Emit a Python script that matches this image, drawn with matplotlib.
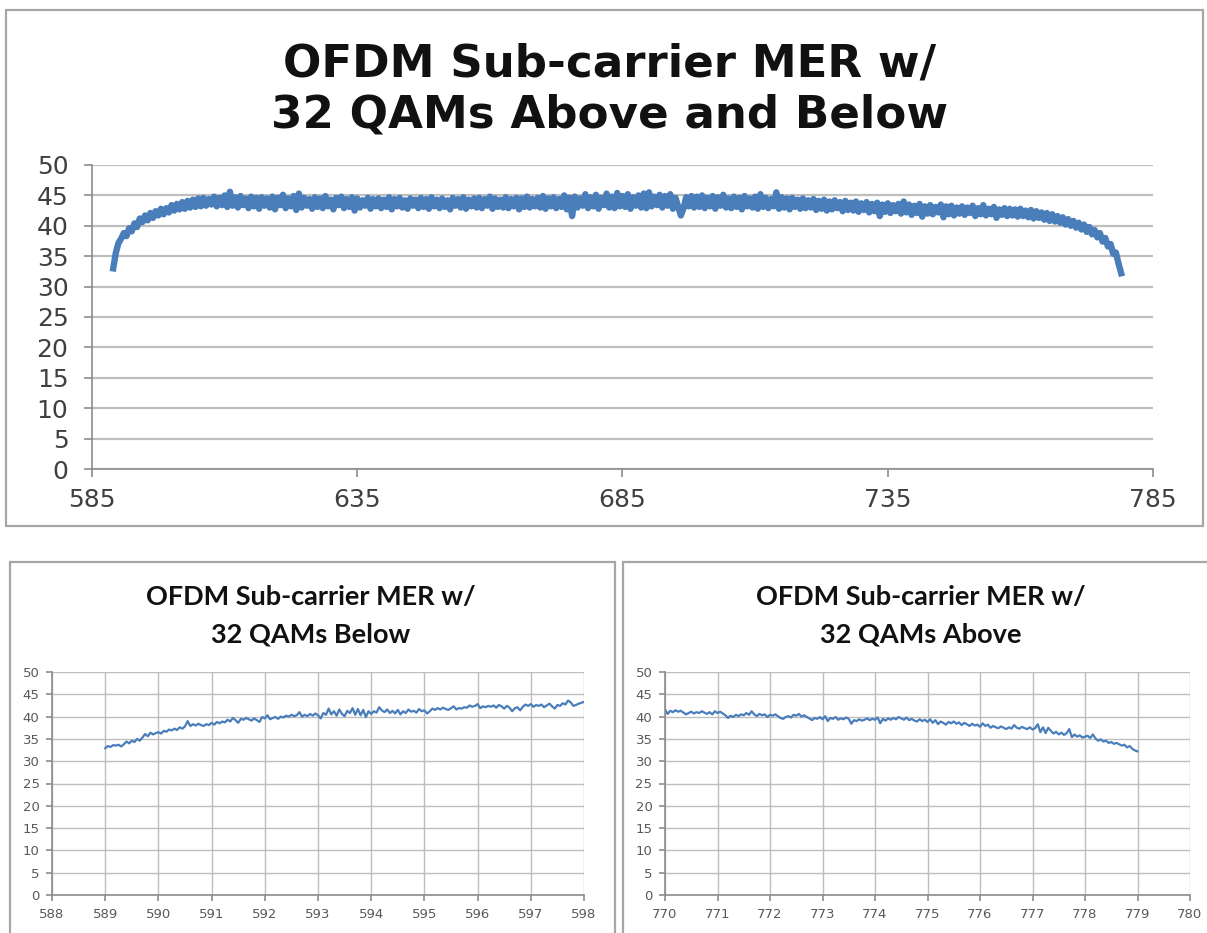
import matplotlib.pyplot as plt
import numpy as np
from matplotlib.patches import Rectangle

# MER per sub-carrier across the whole OFDM block (0.5 MHz steps)
full_freq = np.arange(589.0, 779.01, 0.5)
full_mer = [
    33.0, 35.6, 37.2, 37.9, 38.8, 38.3, 39.6, 39.1, 40.4, 39.8, 41.2, 40.6, 41.7, 40.9, 42.1, 41.3, 42.4, 41.7, 42.8, 41.9,
    42.9, 42.2, 43.4, 42.5, 43.6, 42.7, 43.9, 42.8, 44.1, 43.0, 44.3, 43.1, 44.5, 43.2, 44.6, 43.3, 44.4, 43.5, 44.8, 43.2,
    44.6, 43.4, 45.0, 43.1, 45.6, 43.3, 44.7, 43.0, 44.9, 43.4, 44.5, 42.9, 44.8, 43.2, 44.6, 42.8, 44.7, 43.3, 44.5, 43.0,
    44.8, 42.7, 44.6, 43.4, 45.1, 42.9, 44.5, 43.2, 44.9, 42.6, 45.3, 43.0, 44.6, 43.3, 44.4, 42.8, 44.7, 43.1, 44.5, 42.9,
    44.9, 43.2, 44.3, 42.7, 44.6, 43.4, 44.8, 42.9, 44.4, 43.1, 44.7, 42.5, 44.5, 43.0, 44.2, 43.3, 44.6, 42.8, 44.4, 43.2,
    44.5, 42.9, 44.3, 43.1, 44.7, 42.7, 44.4, 43.2, 44.6, 43.0, 44.2, 42.8, 44.5, 43.3, 44.3, 42.9, 44.6, 43.1, 44.4, 42.8,
    44.7, 43.2, 44.3, 42.9, 44.5, 43.1, 44.2, 42.7, 44.6, 43.3, 44.4, 43.0, 44.7, 42.8, 44.3, 43.2, 44.5, 43.0, 44.6, 42.9,
    44.4, 43.3, 44.8, 42.8, 44.5, 43.1, 44.3, 43.0, 44.7, 42.9, 44.4, 43.2, 44.6, 42.7, 44.5, 43.1, 44.8, 43.0, 44.4, 43.2,
    44.6, 43.0, 44.9, 42.8, 44.5, 43.2, 44.7, 42.9, 44.4, 43.1, 45.0, 42.7, 44.6, 41.6, 44.8, 43.0, 44.5, 43.3, 45.2, 42.9,
    44.7, 43.2, 45.1, 42.8, 44.6, 43.4, 45.3, 43.0, 44.8, 42.9, 45.4, 43.2, 44.9, 43.1, 45.2, 42.8, 44.7, 43.3, 45.0, 43.0,
    45.3, 42.9, 45.5, 43.2, 44.8, 43.4, 45.1, 43.0, 44.9, 43.3, 45.2, 42.8, 44.6, 43.1, 41.7, 42.9, 44.7, 43.2, 44.9, 43.0,
    44.8, 43.1, 45.0, 42.9, 44.6, 43.2, 44.9, 42.8, 44.7, 43.3, 45.1, 43.0, 44.5, 42.9, 44.8, 43.1, 44.6, 42.7, 44.9, 43.2,
    44.5, 43.0, 44.8, 42.8, 45.2, 43.1, 44.6, 42.9, 44.4, 43.2, 45.5, 42.8, 44.7, 43.0, 44.5, 42.7, 44.6, 43.1, 44.3, 42.8,
    44.5, 42.9, 44.2, 43.0, 44.4, 42.6, 44.1, 42.8, 44.3, 42.5, 44.0, 42.7, 44.2, 42.9, 43.9, 42.4, 44.1, 42.6, 43.8, 42.5,
    44.0, 42.3, 43.7, 42.6, 43.9, 42.2, 43.6, 42.4, 43.8, 41.6, 43.5, 42.3, 43.7, 42.1, 43.4, 42.4, 43.6, 42.0, 44.0, 42.2,
    43.5, 41.8, 43.3, 42.1, 43.6, 41.5, 43.2, 42.0, 43.4, 41.9, 43.1, 42.2, 43.5, 41.4, 43.2, 41.9, 43.3, 41.7, 43.0, 42.0,
    43.2, 41.8, 43.0, 42.1, 43.3, 41.6, 42.9, 41.9, 43.4, 41.7, 42.8, 41.9, 43.1, 41.3, 42.7, 41.8, 42.9, 41.6, 42.8, 41.7,
    42.7, 41.5, 42.8, 41.6, 42.5, 41.4, 42.6, 41.2, 42.4, 41.3, 42.2, 41.0, 42.1, 40.8, 41.9, 40.7, 41.6, 40.5, 41.4, 40.2,
    41.1, 40.0, 40.8, 39.7, 40.5, 39.4, 40.2, 39.0, 39.8, 38.6, 39.3, 38.1, 38.8, 37.4, 38.0, 36.6, 37.0, 35.4, 35.6, 33.8,
    32.2,
]

# lower band edge, 50 kHz steps
below_freq = np.arange(589.0, 598.001, 0.05)
below_mer = [
    32.9, 33.4, 33.2, 33.6, 33.5, 33.7, 33.3, 33.8, 34.4, 34.0, 34.6, 34.3, 35.0, 34.6, 35.3, 36.1, 35.6, 36.4, 36.0, 36.3,
    36.5, 36.2, 36.8, 36.6, 37.1, 36.9, 37.3, 37.0, 37.6, 37.3, 37.8, 39.0, 37.9, 38.3, 38.0, 38.4, 38.1, 37.9, 38.3, 38.1,
    38.6, 38.2, 38.8, 38.5, 38.9, 38.7, 39.3, 38.9, 39.7, 39.2, 38.6, 39.5, 39.3, 39.7, 39.4, 39.1, 39.6, 39.2, 38.8, 39.9,
    39.6, 40.3, 39.4, 39.7, 39.9, 39.5, 40.0, 39.8, 40.2, 40.0, 40.4, 40.1, 40.3, 41.0, 40.0, 40.4, 40.1, 40.6, 40.2, 40.7,
    40.3, 39.6, 40.8, 40.4, 41.8, 40.5, 41.2, 40.2, 41.6, 40.6, 40.1, 41.3, 40.8, 41.9, 40.4, 41.7, 40.3, 41.5, 39.9, 41.2,
    40.6, 41.2, 40.9, 42.1, 41.4, 41.0, 41.6, 40.8, 41.3, 40.7, 41.5, 40.5, 41.2, 40.8, 41.6, 41.1, 41.3, 40.9, 41.7, 41.2,
    41.4, 40.7, 41.2, 41.8, 41.5, 41.9, 41.6, 42.0, 41.7, 41.5, 41.9, 42.3, 41.6, 41.9, 41.8, 42.1, 42.0, 42.5, 42.2, 42.4,
    42.8, 41.9, 42.3, 42.1, 42.4, 42.2, 42.5, 42.0, 42.6, 42.3, 41.8, 42.4, 42.0, 41.2, 41.9, 42.1, 41.4, 42.2, 42.7, 42.4,
    42.8, 42.2, 42.6, 42.4, 42.7, 42.1, 42.5, 42.9, 42.3, 41.8, 42.6, 42.4, 43.0, 42.7, 43.6, 43.2, 42.4, 42.6, 42.9, 43.1,
    43.3,
]

# upper band edge, 50 kHz steps
above_freq = np.arange(770.0, 779.001, 0.05)
above_mer = [
    41.6, 40.6, 41.3, 41.0, 41.4, 41.1, 41.3, 40.9, 40.5, 40.8, 41.1, 40.7, 41.0, 40.8, 41.2, 40.9, 40.6, 41.0, 40.5, 41.2,
    40.8, 41.1, 40.7, 40.3, 39.7, 40.2, 39.9, 40.4, 40.1, 40.5, 40.3, 40.8, 40.4, 41.2, 40.5, 40.1, 40.6, 40.3, 40.5, 39.9,
    40.4, 40.2, 40.5, 40.1, 39.7, 39.5, 39.9, 40.1, 39.8, 40.4, 40.2, 40.6, 40.0, 40.3, 39.9, 39.6, 39.2, 39.7, 39.5, 39.9,
    39.4, 40.1, 39.0, 39.7, 39.5, 39.9, 39.3, 39.6, 39.4, 39.8, 39.5, 38.4, 39.2, 39.0, 39.4, 39.1, 39.3, 39.6, 39.2, 39.5,
    39.3, 39.8, 38.5, 39.5, 39.1, 39.6, 39.3, 39.7, 39.4, 39.9, 39.6, 39.3, 39.8, 39.2, 39.5, 39.1, 38.9, 39.4, 39.0, 39.3,
    38.8, 39.4, 38.6, 39.2, 38.3, 38.9, 38.6, 38.2, 38.8, 38.5, 38.9, 38.4, 38.7, 38.1, 38.6, 38.3, 37.9, 38.4, 38.0, 38.2,
    37.7, 38.5, 37.9, 38.2, 37.5, 37.9, 37.6, 37.4, 37.8, 37.5, 37.2, 37.6, 37.3, 38.1, 37.5, 37.3, 37.7, 37.4, 37.2, 37.6,
    37.1, 37.4, 38.3, 36.5, 37.6, 36.3, 37.5, 36.8, 36.2, 36.6, 36.0, 36.4, 35.9, 36.3, 37.2, 35.4, 36.0, 35.5, 35.8, 35.3,
    35.5, 35.7, 35.2, 36.0, 35.1, 34.6, 34.9, 34.4, 34.6, 34.1, 34.3, 33.9, 34.1, 33.8, 33.5, 33.7, 33.1, 33.4, 32.8, 32.4,
    32.2,
]

title_full = 'OFDM Sub-carrier MER w/\n32 QAMs Above and Below'
title_below = 'OFDM Sub-carrier MER w/\n32 QAMs Below'
title_above = 'OFDM Sub-carrier MER w/\n32 QAMs Above'

W, H = 1207, 933
LINE = '#4A7EBB'
GRID = '#BEBEBE'
AXIS = '#8C8C8C'
BORDER = '#A6A6A6'

fig = plt.figure(figsize=(W / 100, H / 100), dpi=100)
fig.patch.set_facecolor('white')


def px_axes(x0, y0, x1, y1):
    return fig.add_axes([x0 / W, 1 - y1 / H, (x1 - x0) / W, (y1 - y0) / H])


def px_box(x0, y0, x1, y1):
    fig.add_artist(Rectangle((x0 / W, 1 - y1 / H), (x1 - x0) / W, (y1 - y0) / H,
                             transform=fig.transFigure, fill=False,
                             edgecolor=BORDER, linewidth=1.6))


def excel_axes(ax, labelsize, labelcolor, pad, ticklen):
    ax.set_ylim(0, 50)
    ax.set_yticks(np.arange(0, 51, 5))
    for s in ('top', 'right'):
        ax.spines[s].set_visible(False)
    for s in ('left', 'bottom'):
        ax.spines[s].set_color(AXIS)
        ax.spines[s].set_linewidth(1.2)
    ax.tick_params(direction='out', length=ticklen, width=1.2, color=AXIS,
                   labelsize=labelsize, labelcolor=labelcolor, pad=pad)
    ax.set_axisbelow(True)


# big chart
px_box(6, 10, 1203, 526)
ax = px_axes(92, 165, 1153, 469)
ax.plot(full_freq, full_mer, color=LINE, linewidth=4.6, solid_joinstyle='round')
ax.set_xlim(585, 785)
ax.set_xticks([585, 635, 685, 735, 785])
ax.grid(axis='y', color=GRID, linewidth=1.6)
excel_axes(ax, 18, '#404040', 11, 6)
ax.tick_params(axis='x', pad=8)
for lbl in ax.get_xticklabels() + ax.get_yticklabels():
    lbl.set_family('DejaVu Sans')
for i, line in enumerate(title_full.split('\n')):
    fig.text(610 / W, 1 - (77 + 50 * i) / H, line, ha='center', va='baseline',
             family='DejaVu Sans', fontweight='bold', fontsize=32.5, color='#111111')

# band-edge close-ups
panels = [
    ((10, 562, 615, 945), (52, 672, 584, 895), 311, below_freq, below_mer, (588, 598), title_below),
    ((623, 562, 1212, 945), (665, 672, 1190, 895), 921, above_freq, above_mer, (770, 780), title_above),
]
for box, rect, tx, fx, fy, xlim, title in panels:
    px_box(*box)
    a = px_axes(*rect)
    a.plot(fx, fy, color=LINE, linewidth=1.6)
    a.set_xlim(*xlim)
    a.set_xticks(np.arange(xlim[0], xlim[1] + 1, 1))
    a.grid(True, color=GRID, linewidth=1.0)
    excel_axes(a, 9.5, '#595959', 5, 4)
    for lbl in a.get_xticklabels() + a.get_yticklabels():
        lbl.set_family('DejaVu Sans')
    for i, line in enumerate(title.split('\n')):
        fig.text(tx / W, 1 - (605 + 38 * i) / H, line, ha='center', va='baseline',
                 family='Lato', fontweight='bold', fontsize=19.5, color='#111111')

fig.savefig('out.png', dpi=100, facecolor='white')
